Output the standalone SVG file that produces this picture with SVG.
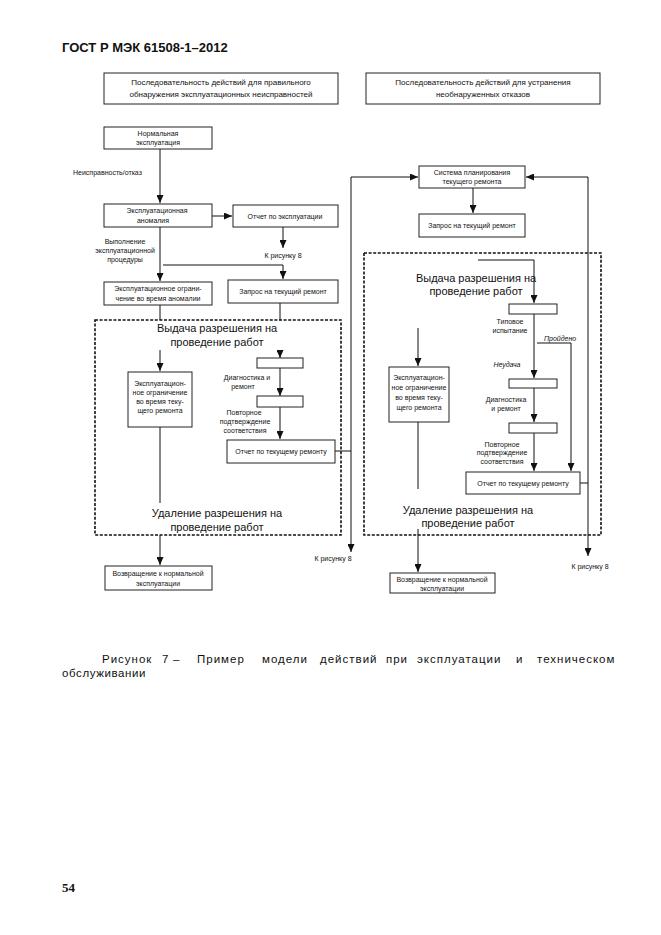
<svg xmlns="http://www.w3.org/2000/svg" width="661" height="935" viewBox="0 0 661 935">
<style>
.bg{fill:#fff}
.box{fill:#fff;stroke:#222;stroke-width:1}
.dash{fill:none;stroke:#111;stroke-width:1.6;stroke-dasharray:3 1.6}
.ln{fill:none;stroke:#111;stroke-width:1}
.t{font-family:"Liberation Sans",Arial,sans-serif;font-size:7px;fill:#111;text-anchor:middle}
.ts{font-family:"Liberation Sans",Arial,sans-serif;font-size:7px;fill:#111;text-anchor:start}
.ti{font-style:italic}
.big{font-family:"Liberation Sans",Arial,sans-serif;font-size:11px;fill:#111;text-anchor:middle}
.hd{font-family:"Liberation Sans",Arial,sans-serif;font-size:8px;fill:#111;text-anchor:middle}
.cap{font-family:"Liberation Sans",Arial,sans-serif;font-size:11.5px;fill:#111;letter-spacing:1px}
</style>
<defs>
<marker id="ah" markerUnits="userSpaceOnUse" markerWidth="8" markerHeight="7" refX="8" refY="3.5" orient="auto">
<path d="M0,0 L8,3.5 L0,7 z" fill="#111"/>
</marker>
</defs>
<rect class="bg" x="0" y="0" width="661" height="935"/>
<text x="62" y="52" font-family="Liberation Sans,Arial,sans-serif" font-size="13" font-weight="bold" fill="#111">ГОСТ Р МЭК 61508-1–2012</text>

<g id="connectors">
<path class="ln" d="M160,149 L160,203" marker-end="url(#ah)"/>
<path class="ln" d="M212,216 L232,216" marker-end="url(#ah)"/>
<path class="ln" d="M283,227 L283,248" marker-end="url(#ah)"/>
<path class="ln" d="M160,227 L160,281" marker-end="url(#ah)"/>
<path class="ln" d="M163,265 L283,265 L283,279" marker-end="url(#ah)"/>
<path class="ln" d="M160,305 L160,320"/>
<path class="ln" d="M280,303 L280,320"/>
<path class="ln" d="M160,350 L160,371" marker-end="url(#ah)"/>
<path class="ln" d="M160,427 L160,503"/>
<path class="ln" d="M280,350 L280,358" marker-end="url(#ah)"/>
<path class="ln" d="M280,368 L280,396" marker-end="url(#ah)"/>
<path class="ln" d="M280,407 L280,439" marker-end="url(#ah)"/>
<path class="ln" d="M335,451 L351,451"/>
<path class="ln" d="M351,177 L351,552" marker-end="url(#ah)"/>
<path class="ln" d="M351,177 L418,177" marker-end="url(#ah)"/>
<path class="ln" d="M160,535 L160,565" marker-end="url(#ah)"/>
<path class="ln" d="M473,188 L473,213" marker-end="url(#ah)"/>
<path class="ln" d="M588,177 L526,177" marker-end="url(#ah)"/>
<path class="ln" d="M588,177 L588,556" marker-end="url(#ah)"/>
<path class="ln" d="M580,483 L588,483"/>
<path class="ln" d="M478,260 L534,260 L534,303" marker-end="url(#ah)"/>
<path class="ln" d="M534,314 L534,378" marker-end="url(#ah)"/>
<path class="ln" d="M537,343 L571,343 L571,471" marker-end="url(#ah)"/>
<path class="ln" d="M534,388 L534,422" marker-end="url(#ah)"/>
<path class="ln" d="M534,433 L534,471" marker-end="url(#ah)"/>
<path class="ln" d="M418,328 L418,366" marker-end="url(#ah)"/>
<path class="ln" d="M418,422 L418,489"/>
<path class="ln" d="M418,529 L418,572" marker-end="url(#ah)"/>
</g>

<g id="labels">
<text class="ts" x="73" y="175">Неисправность/отказ</text>
<text class="t" x="283" y="258">К рисунку 8</text>
<text class="t" x="125" y="244">Выполнение</text>
<text class="t" x="125" y="253">эксплуатационной</text>
<text class="t" x="125" y="262">процедуры</text>
<text class="t" x="247" y="380">Диагностика и</text>
<text class="t" x="243" y="389">ремонт</text>
<text class="t" x="244" y="415">Повторное</text>
<text class="t" x="245" y="424">подтверждение</text>
<text class="t" x="245" y="433">соответствия</text>
<text class="t" x="333" y="561">К рисунку 8</text>
<text class="t" x="510" y="324">Типовое</text>
<text class="t" x="510" y="333">испытание</text>
<text class="ts ti" x="544" y="341">Пройдено</text>
<text class="t ti" x="507" y="367">Неудача</text>
<text class="t" x="506" y="402">Диагностика</text>
<text class="t" x="506" y="411">и ремонт</text>
<text class="t" x="502" y="447">Повторное</text>
<text class="t" x="502" y="455">подтверждение</text>
<text class="t" x="502" y="464">соответствия</text>
<text class="t" x="590" y="569">К рисунку 8</text>
</g>

<g id="header-left"><rect class="box" x="104" y="73" width="234" height="31"/>
<text class="hd" x="221" y="85">Последовательность действий для правильного</text>
<text class="hd" x="221" y="97">обнаружения эксплуатационных неисправностей</text></g>
<g id="header-right"><rect class="box" x="366" y="73" width="234" height="31"/>
<text class="hd" x="483" y="85">Последовательность действий для устранения</text>
<text class="hd" x="483" y="97">необнаруженных отказов</text></g>

<g id="normal-op"><rect class="box" x="104" y="127" width="108" height="22"/>
<text class="t" x="158" y="136">Нормальная</text><text class="t" x="158" y="145">эксплуатация</text></g>
<g id="anomaly"><rect class="box" x="104" y="204" width="108" height="23"/>
<text class="t" x="157" y="213">Эксплуатационная</text><text class="t" x="153" y="223">аномалия</text></g>
<g id="op-report"><rect class="box" x="233" y="205" width="105" height="22"/>
<text class="t" x="285" y="219">Отчет по эксплуатации</text></g>
<g id="op-restriction"><rect class="box" x="104" y="282" width="108" height="23"/>
<text class="t" x="158" y="291">Эксплуатационное ограни-</text><text class="t" x="158" y="301">чение во время аномалии</text></g>
<g id="repair-request-left"><rect class="box" x="228" y="280" width="110" height="23"/>
<text class="t" x="283" y="294">Запрос на текущий ремонт</text></g>

<g id="permit-left">
<rect class="dash" x="95" y="320" width="246" height="215"/>
<text class="big" x="217" y="332">Выдача разрешения на</text>
<text class="big" x="217" y="346">проведение работ</text>
<text class="big" x="217" y="517">Удаление разрешения на</text>
<text class="big" x="217" y="531">проведение работ</text>
</g>
<g id="repair-restriction-left"><rect class="box" x="128" y="372" width="64" height="55"/>
<text class="t" x="160" y="386">Эксплуатацион-</text><text class="t" x="160" y="395">ное ограничение</text>
<text class="t" x="160" y="404">во время теку-</text><text class="t" x="160" y="413">щего ремонта</text></g>
<g id="step-left-1"><rect class="box" x="257" y="358" width="46" height="10"/></g>
<g id="step-left-2"><rect class="box" x="257" y="396" width="46" height="11"/></g>
<g id="repair-report-left"><rect class="box" x="227" y="440" width="108" height="23"/>
<text class="t" x="281" y="454">Отчет по текущему ремонту</text></g>
<g id="return-left"><rect class="box" x="105" y="566" width="107" height="24"/>
<text class="t" x="158" y="576">Возвращение к нормальной</text><text class="t" x="158" y="586">эксплуатации</text></g>

<g id="planning"><rect class="box" x="419" y="166" width="106" height="22"/>
<text class="t" x="472" y="175">Система планирования</text><text class="t" x="472" y="184">текущего ремонта</text></g>
<g id="repair-request-right"><rect class="box" x="419" y="214" width="106" height="23"/>
<text class="t" x="472" y="228">Запрос на текущий ремонт</text></g>

<g id="permit-right">
<rect class="dash" x="364" y="253" width="237" height="282"/>
<text class="big" x="476" y="282">Выдача разрешения на</text>
<text class="big" x="476" y="295">проведение работ</text>
<text class="big" x="468" y="514">Удаление разрешения на</text>
<text class="big" x="468" y="527">проведение работ</text>
</g>
<g id="step-right-1"><rect class="box" x="509" y="304" width="48" height="10"/></g>
<g id="step-right-2"><rect class="box" x="509" y="379" width="48" height="9"/></g>
<g id="step-right-3"><rect class="box" x="509" y="423" width="48" height="10"/></g>
<g id="repair-restriction-right"><rect class="box" x="389" y="367" width="60" height="55"/>
<text class="t" x="419" y="380">Эксплуатацион-</text><text class="t" x="419" y="390">ное ограничение</text>
<text class="t" x="419" y="400">во время теку-</text><text class="t" x="419" y="410">щего ремонта</text></g>
<g id="repair-report-right"><rect class="box" x="466" y="472" width="114" height="22"/>
<text class="t" x="523" y="486">Отчет по текущему ремонту</text></g>
<g id="return-right"><rect class="box" x="390" y="573" width="105" height="20"/>
<text class="t" x="442" y="582">Возвращение к нормальной</text><text class="t" x="442" y="591">эксплуатации</text></g>

<text class="cap" y="663"><tspan x="102">Рисунок</tspan> <tspan x="162">7</tspan> <tspan x="173">–</tspan> <tspan x="197">Пример</tspan> <tspan x="262">модели</tspan> <tspan x="320">действий</tspan> <tspan x="386">при</tspan> <tspan x="417">эксплуатации</tspan> <tspan x="516">и</tspan> <tspan x="537">техническом</tspan></text>
<text class="cap" x="62" y="677" style="letter-spacing:0.6px">обслуживании</text>
<text x="62" y="892" font-family="Liberation Serif,Times New Roman,serif" font-size="13" font-weight="bold" fill="#111">54</text>
</svg>
